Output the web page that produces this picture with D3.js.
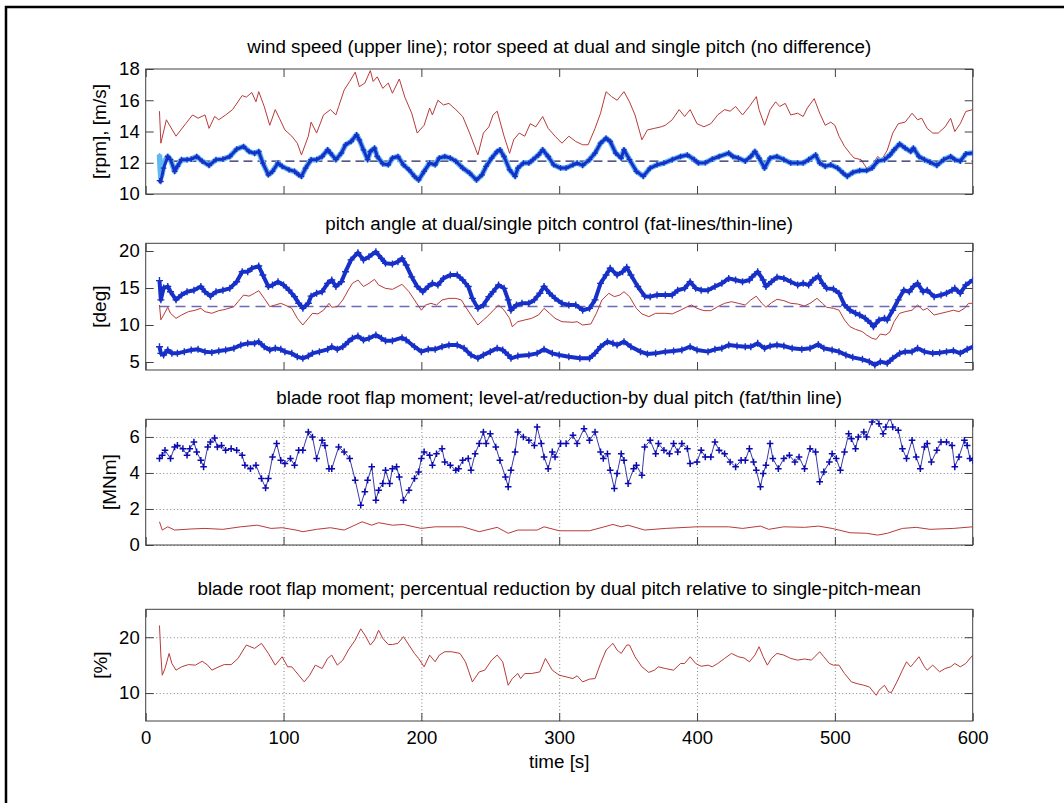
<!DOCTYPE html>
<html>
<head>
<meta charset="utf-8">
<script src="https://cdn.jsdelivr.net/npm/d3@7"></script>
<style>
  body { margin: 0; background: #fff; }
  svg { display: block; font-family: "Liberation Sans", Arial, sans-serif; }
</style>
</head>
<body>
<div id="chart"></div>
<script>
// time axis ticks (s)
const timeTicks = [0, 100, 200, 300, 400, 500, 600];

// panel 1: wind speed [m/s] and rotor speed [rpm], pairs of [time, value]
const windSpeed = [[10,15.3],[11,13.25],[15,14.75],[22,13.7],[29,14.5],[34,15.06],[38,14.85],[43,15.06],[46,14.2],[50,14.96],[53,14.75],[58,15.06],[63,15.4],[70,16.3],[73,16.2],[77,16.5],[80,15.9],[82,16.55],[86,15.6],[90,14.4],[94,15.4],[97,14.85],[101,14.1],[106,13.7],[110,13.25],[113,12.5],[118,13.7],[120,14.6],[124,13.9],[129,15.06],[134,15.4],[138,15.06],[140,15.6],[144,16.66],[148,17.2],[152,17.8],[155,16.87],[159,17.1],[163,17.9],[165,17.2],[168,17.5],[172,16.76],[176,17.1],[179,16.45],[184,17.36],[188,16.2],[193,15.17],[197,13.9],[202,14.4],[206,15.5],[208,15.06],[212,16.0],[216,15.7],[220,15.8],[225,15.4],[230,14.96],[235,13.9],[241,12.5],[245,13.9],[249,14.3],[252,15.06],[255,15.3],[260,13.7],[264,12.6],[267,13.47],[271,13.9],[275,13.7],[279,14.5],[283,14.3],[288,14.96],[292,14.2],[297,13.7],[302,13.25],[307,13.7],[312,13.36],[317,13.15],[321,13.15],[326,14.2],[330,15.17],[334,16.55],[338,16.23],[342,16.0],[347,16.55],[351,15.9],[355,15.06],[360,13.47],[364,14.1],[369,14.2],[374,14.3],[377,14.4],[382,14.75],[387,15.4],[391,14.96],[395,15.4],[400,14.5],[405,14.3],[410,14.5],[415,15.06],[420,15.4],[424,15.3],[428,15.6],[433,15.06],[438,15.6],[443,16.23],[445,15.4],[449,14.4],[453,15.4],[457,15.9],[460,15.6],[464,15.8],[468,15.06],[473,15.17],[477,14.96],[480,15.5],[485,16.1],[489,15.17],[493,14.4],[497,14.6],[500,14.4],[503,13.7],[507,13.05],[511,12.6],[514,12.3],[519,12.2],[523,11.66],[527,11.87],[531,12.4],[534,12.2],[538,12.8],[542,13.9],[546,14.5],[551,14.6],[556,15.17],[560,14.75],[563,14.85],[567,14.2],[571,13.9],[575,13.9],[580,14.3],[584,14.85],[587,14.0],[591,14.5],[595,15.28],[600,15.4]];
const rotorDual = [[10,10.85],[11,10.8],[13,11.66],[16,12.4],[18,12.2],[21,11.45],[23,11.77],[26,12.2],[30,12.2],[33,12.23],[37,12.4],[41,12.1],[46,11.83],[51,12.2],[56,12.23],[61,12.4],[66,12.87],[71,13.04],[75,12.72],[79,12.6],[82,12.72],[85,11.98],[89,11.23],[92,11.45],[96,11.98],[99,11.77],[104,11.55],[108,11.45],[111,11.23],[113,11.13],[116,11.66],[120,12.2],[124,12.2],[128,12.4],[132,12.83],[134,12.62],[138,12.2],[142,12.62],[145,13.15],[149,13.36],[153,13.79],[155,13.47],[158,12.83],[161,12.2],[163,12.72],[166,12.94],[168,12.4],[172,11.94],[176,11.87],[179,12.3],[183,12.4],[187,11.87],[191,11.55],[195,11.13],[198,10.9],[202,11.45],[206,11.98],[210,11.87],[213,12.3],[217,12.4],[221,12.3],[225,12.1],[230,11.66],[235,11.34],[240,10.9],[244,11.23],[247,11.77],[251,12.3],[255,12.72],[257,12.83],[260,12.4],[264,11.55],[268,11.13],[270,11.66],[274,11.98],[278,11.98],[281,12.2],[285,12.5],[288,12.83],[292,12.4],[296,11.87],[301,11.66],[305,11.66],[310,11.87],[313,11.98],[317,11.83],[322,12.2],[326,12.62],[330,13.25],[334,13.57],[337,13.36],[341,12.62],[345,12.3],[347,12.83],[351,12.2],[356,11.45],[361,11.13],[366,11.66],[371,11.87],[376,11.98],[382,12.2],[388,12.4],[393,12.5],[398,12.2],[401,11.98],[406,12.0],[411,12.23],[416,12.4],[423,12.62],[426,12.4],[430,12.3],[435,12.1],[439,12.4],[442,12.72],[445,12.3],[449,11.66],[453,12.3],[458,12.4],[463,12.2],[468,11.98],[473,11.98],[477,11.98],[481,12.2],[486,12.5],[489,11.98],[493,11.77],[497,11.87],[502,11.66],[506,11.34],[509,11.13],[513,11.38],[518,11.5],[523,11.5],[527,11.66],[531,12.1],[536,12.2],[540,12.5],[543,12.83],[547,13.2],[551,12.94],[555,12.72],[557,12.94],[561,12.4],[565,12.2],[569,12.04],[574,11.83],[579,12.2],[584,12.4],[587,12.2],[591,12.1],[595,12.57],[600,12.62]];
// single pitch rotor speed: only its first seconds differ from the dual pitch run
const rotorSingleStart = [[10,12.5],[10.5,11.6],[11,11.05],[12,11.3],[13,11.9],[15,12.3]];
const rotorRef = 12.1;

// panel 2: pitch angle [deg]
const pitchDualHigh = [[10,16.0],[11,13.4],[13,15.0],[16,15.2],[18,14.5],[22,13.4],[26,14.05],[30,14.5],[35,14.7],[40,15.2],[43,14.5],[47,13.9],[51,14.5],[56,14.7],[61,14.95],[66,15.85],[70,17.2],[74,17.2],[77,17.65],[82,17.97],[85,16.75],[89,15.2],[92,15.4],[96,15.85],[100,15.4],[104,14.7],[108,13.83],[111,12.93],[114,12.25],[118,12.93],[120,13.9],[124,14.3],[128,14.5],[132,15.63],[135,16.08],[138,15.2],[142,15.85],[145,17.2],[149,18.8],[154,19.77],[158,18.8],[162,19.23],[167,19.9],[171,19.0],[174,18.33],[179,18.24],[183,18.56],[186,19.0],[189,18.1],[193,16.5],[197,15.2],[201,14.5],[205,15.2],[208,15.63],[212,15.4],[216,16.3],[221,16.76],[226,16.76],[230,16.08],[234,15.2],[237,13.6],[241,12.25],[245,12.7],[249,13.83],[252,14.5],[256,15.4],[260,14.95],[263,13.4],[265,12.0],[269,12.7],[273,12.93],[278,12.93],[282,13.4],[286,14.3],[289,15.2],[293,14.3],[297,13.6],[302,12.93],[307,12.7],[312,12.7],[317,12.0],[322,12.25],[326,13.4],[330,15.63],[334,16.76],[337,17.66],[342,16.76],[346,17.2],[349,17.8],[352,16.76],[357,15.2],[362,13.9],[366,13.83],[371,14.05],[377,14.05],[382,14.05],[386,14.7],[391,14.95],[395,15.85],[399,14.95],[403,14.7],[408,14.7],[413,15.2],[418,15.63],[423,16.3],[428,16.08],[433,15.85],[438,16.08],[440,16.5],[444,17.2],[448,16.08],[450,15.2],[454,15.85],[458,16.44],[463,16.3],[468,15.85],[473,15.4],[477,15.63],[481,15.4],[484,16.08],[488,16.62],[491,15.63],[494,14.95],[499,14.86],[503,14.3],[507,12.7],[511,12.0],[515,11.58],[518,11.35],[522,10.9],[526,10.23],[528,9.78],[532,10.68],[536,10.9],[538,10.68],[542,12.0],[546,13.4],[550,14.7],[554,14.5],[557,15.2],[560,15.63],[564,14.5],[567,14.7],[572,13.83],[577,14.05],[581,14.3],[585,14.7],[587,14.95],[591,14.3],[595,15.4],[600,16.08]];
const pitchDualLow = [[10,7.07],[11,6.17],[13,5.95],[16,6.62],[19,6.17],[23,6.17],[28,6.4],[33,6.62],[38,6.71],[43,6.4],[48,6.3],[53,6.5],[58,6.62],[64,6.85],[69,7.3],[74,7.52],[79,7.52],[82,7.75],[86,7.07],[90,6.62],[94,6.85],[98,6.71],[101,6.4],[106,6.17],[110,5.72],[114,5.5],[118,5.8],[121,6.17],[126,6.4],[132,6.71],[135,7.07],[139,6.71],[143,7.07],[147,7.75],[150,8.2],[154,8.5],[158,7.97],[162,8.2],[167,8.65],[171,8.2],[174,7.88],[179,7.88],[186,8.29],[189,7.97],[195,7.07],[200,6.4],[205,6.71],[210,6.71],[215,7.07],[220,7.3],[226,7.3],[231,6.85],[236,5.95],[241,5.5],[245,5.95],[250,6.4],[255,6.85],[259,6.62],[263,5.95],[265,5.5],[270,5.8],[278,5.95],[284,6.17],[289,6.71],[295,6.17],[300,5.95],[307,5.72],[315,5.5],[322,5.5],[326,6.17],[330,7.07],[335,7.75],[339,7.52],[342,7.3],[347,7.75],[352,7.07],[359,6.4],[364,6.08],[370,6.17],[377,6.4],[383,6.5],[389,6.62],[395,7.07],[400,6.62],[408,6.4],[413,6.71],[418,6.85],[423,7.3],[429,7.16],[435,7.07],[439,7.07],[444,7.52],[449,6.85],[453,7.16],[458,7.3],[463,7.16],[469,6.85],[476,6.71],[482,6.85],[488,7.38],[492,6.85],[498,6.62],[503,6.4],[508,5.95],[513,5.63],[520,5.36],[525,5.05],[529,4.6],[533,5.05],[538,4.83],[542,5.5],[547,6.17],[551,6.4],[556,6.4],[560,6.85],[565,6.4],[571,6.17],[576,6.26],[581,6.4],[586,6.53],[591,6.17],[596,6.71],[600,7.07]];
const pitchSingle = [[10,12.7],[11,10.7],[13,11.35],[16,12.4],[18,11.58],[22,10.9],[26,11.35],[31,11.8],[36,12.0],[40,12.25],[43,11.8],[48,11.58],[53,11.94],[58,12.12],[64,12.48],[67,13.15],[71,14.05],[75,13.9],[79,14.3],[82,14.64],[86,13.6],[90,12.48],[94,12.7],[98,12.93],[101,12.7],[106,12.25],[110,10.9],[114,10.0],[118,10.9],[121,11.58],[125,11.5],[129,12.0],[133,12.93],[135,12.4],[139,12.48],[143,13.38],[147,14.73],[150,15.63],[154,16.08],[158,15.2],[162,15.63],[166,16.17],[169,15.4],[174,14.95],[179,14.82],[183,15.2],[186,15.5],[191,14.5],[195,13.38],[200,12.0],[203,12.7],[207,12.93],[211,12.7],[215,13.38],[220,13.6],[225,13.6],[229,13.38],[232,12.48],[236,11.35],[241,10.0],[245,10.68],[249,11.35],[252,11.94],[256,12.7],[260,12.0],[264,10.9],[266,9.77],[270,10.45],[275,10.68],[280,10.9],[285,11.35],[289,12.25],[293,11.58],[297,10.9],[302,10.45],[310,10.36],[313,10.45],[317,10.0],[323,10.14],[327,11.58],[331,13.38],[336,14.28],[340,13.83],[344,14.05],[347,14.5],[351,13.83],[356,12.25],[360,11.5],[365,11.13],[370,11.58],[377,11.58],[382,11.5],[388,12.0],[393,12.48],[396,12.7],[400,12.25],[405,11.94],[410,11.94],[415,12.48],[420,12.93],[425,13.15],[430,12.93],[435,12.7],[439,13.38],[443,13.9],[447,12.93],[450,12.4],[454,13.0],[458,13.47],[463,13.29],[468,12.93],[473,12.84],[478,12.57],[482,12.93],[487,13.6],[491,12.93],[494,12.4],[499,12.25],[503,12.0],[507,10.68],[511,9.77],[515,9.41],[520,9.1],[523,8.65],[527,8.2],[530,8.06],[533,8.78],[537,8.65],[540,9.1],[543,10.45],[547,11.58],[551,11.8],[556,12.0],[560,12.7],[564,12.0],[567,12.25],[572,11.35],[577,11.58],[582,11.8],[586,12.0],[590,11.8],[594,12.25],[597,12.93],[600,12.93]];
const pitchRef = 12.5;

// panel 3: blade root flap moment [MNm]
const flapDual = [[10,4.8],[12,4.98],[14,5.26],[18,4.8],[21,5.44],[23,5.53],[27,5.35],[30,4.98],[32,5.35],[35,5.72],[37,5.17],[40,4.7],[42,4.34],[45,5.44],[47,5.72],[50,5.94],[52,5.44],[55,5.53],[58,5.26],[62,5.35],[66,5.26],[70,4.98],[72,4.43],[76,4.24],[80,4.43],[84,3.69],[87,3.17],[89,3.69],[92,4.89],[95,5.63],[98,4.7],[101,4.52],[105,4.8],[108,4.43],[111,5.26],[114,5.26],[118,6.27],[121,6.0],[124,4.8],[128,5.81],[130,5.53],[133,4.24],[135,4.24],[140,5.44],[144,5.17],[148,4.8],[152,3.6],[156,2.21],[159,2.95],[161,3.6],[164,4.34],[167,2.49],[169,3.04],[172,3.41],[174,4.15],[177,3.41],[179,4.24],[182,4.34],[184,3.78],[187,2.49],[191,3.04],[195,3.69],[198,4.06],[200,4.8],[202,5.17],[206,4.98],[208,4.43],[211,5.07],[215,5.35],[217,4.61],[221,4.43],[225,4.15],[227,4.24],[230,4.7],[234,4.8],[236,4.15],[239,5.07],[242,5.63],[245,6.27],[247,5.63],[250,6.18],[254,5.44],[257,4.7],[261,3.78],[263,3.23],[265,4.15],[268,5.17],[270,6.27],[274,6.0],[278,5.81],[282,5.53],[284,6.55],[287,5.63],[289,4.89],[292,4.24],[295,5.17],[297,4.89],[301,5.63],[305,5.63],[310,6.09],[313,5.63],[318,6.46],[322,5.81],[326,6.27],[330,5.17],[332,4.8],[335,5.07],[337,4.15],[340,3.14],[342,3.97],[345,5.07],[347,4.7],[350,3.41],[354,4.24],[356,4.43],[360,3.87],[362,5.44],[366,5.81],[370,5.07],[372,5.63],[376,5.26],[380,5.07],[383,5.63],[386,5.17],[389,5.63],[393,5.35],[395,4.52],[400,4.61],[403,5.26],[406,4.89],[410,4.89],[413,5.72],[416,5.26],[420,5.07],[424,4.61],[428,4.34],[432,4.7],[435,4.7],[438,5.35],[441,4.61],[443,4.15],[446,3.23],[448,3.97],[450,4.43],[453,5.63],[455,4.8],[459,4.24],[463,4.8],[467,4.98],[471,4.61],[474,4.89],[478,4.24],[482,5.35],[486,5.17],[489,3.51],[492,4.06],[496,4.61],[498,5.07],[501,4.8],[504,4.15],[507,5.17],[510,6.18],[512,5.9],[515,5.35],[517,6.0],[521,6.27],[523,6.0],[527,6.83],[530,7.1],[532,6.73],[535,6.18],[537,6.55],[540,7.1],[542,6.55],[546,6.37],[549,5.35],[552,4.8],[556,5.81],[559,4.89],[562,4.24],[565,5.44],[567,5.63],[570,4.61],[574,5.26],[577,5.72],[581,5.72],[585,5.53],[587,4.34],[590,4.89],[594,5.81],[596,5.53],[598,4.8],[600,4.7]];
const flapReduction = [[10,1.29],[12,0.83],[16,1.01],[21,0.83],[33,0.89],[43,0.92],[56,0.87],[69,1.01],[81,1.1],[91,0.92],[99,0.96],[109,0.83],[114,0.74],[124,0.87],[134,0.96],[144,0.83],[157,1.29],[164,1.1],[169,1.24],[179,1.1],[187,1.14],[200,0.92],[210,1.01],[220,1.01],[230,1.01],[242,0.74],[255,0.98],[263,0.65],[270,0.83],[284,0.83],[289,1.01],[300,0.79],[322,0.79],[339,1.14],[345,1.01],[350,1.1],[362,0.83],[377,0.92],[400,1.01],[423,1.01],[433,0.92],[446,1.05],[452,0.87],[463,1.01],[478,0.98],[488,1.05],[498,0.92],[511,0.68],[523,0.65],[531,0.55],[538,0.65],[549,0.92],[559,0.98],[569,0.87],[586,0.92],[600,1.01]];

// panel 4: percentual reduction [%]
const flapPercent = [[10,22.1],[11,16.8],[12,13.2],[14,14.4],[17,17.1],[19,15.3],[22,14.1],[26,14.7],[31,15.1],[36,15.0],[41,15.7],[45,15.0],[48,14.1],[53,14.7],[57,15.1],[62,15.1],[67,16.2],[73,18.6],[79,18.0],[84,18.9],[89,17.1],[94,15.0],[99,16.5],[103,14.7],[106,14.7],[111,13.2],[115,12.0],[119,13.2],[123,15.0],[128,14.4],[132,16.2],[135,16.8],[139,15.0],[143,15.9],[147,17.7],[152,19.5],[156,21.5],[159,20.4],[163,18.6],[166,19.5],[169,21.25],[172,19.8],[176,18.7],[179,18.7],[183,18.9],[187,20.1],[191,18.6],[195,17.1],[198,16.2],[202,14.7],[206,16.8],[210,15.6],[213,16.8],[217,17.4],[222,17.4],[228,17.1],[232,15.6],[237,12.0],[242,13.8],[246,14.1],[251,15.9],[255,16.8],[259,15.6],[263,11.4],[266,12.6],[270,13.5],[272,12.6],[275,13.5],[280,13.5],[286,13.8],[290,16.2],[295,14.1],[300,13.2],[305,12.9],[310,12.6],[313,13.1],[317,12.0],[322,12.5],[326,12.6],[330,15.3],[334,17.7],[339,18.9],[342,17.7],[345,17.1],[349,18.6],[351,18.6],[355,16.5],[360,14.7],[365,13.7],[369,14.1],[372,14.7],[377,14.4],[383,14.1],[388,15.3],[391,15.3],[395,16.5],[399,15.3],[403,14.8],[408,15.0],[411,14.7],[415,15.3],[420,16.2],[425,17.1],[430,16.5],[434,16.3],[438,15.6],[442,16.8],[445,18.3],[448,16.5],[451,15.0],[454,16.2],[458,17.1],[463,16.8],[468,16.2],[473,15.9],[478,16.1],[483,15.9],[489,17.4],[492,16.5],[496,15.3],[499,15.0],[503,15.0],[507,13.5],[512,12.0],[516,11.7],[521,11.4],[525,11.1],[530,9.6],[532,10.5],[536,11.4],[539,10.2],[541,10.1],[545,12.0],[549,14.1],[552,15.6],[555,14.7],[557,15.3],[561,16.5],[565,14.7],[567,14.1],[571,15.0],[576,13.8],[580,14.4],[584,14.7],[587,15.3],[591,14.7],[595,15.3],[599,16.5],[600,16.8]];

// Set up the figure
const W = 1064, H = 803;
const left = 145.7, right = 972.7;
const red = "#b83a3a", blue = "#1630c8";
const tickFont = 18.5, titleFont = 18.8, labelFont = 19;

const svg = d3.select("#chart")
    .append("svg")
    .attr("width", W)
    .attr("height", H);

// black frame (only top and left edges are inside the picture)
svg.append("path")
    .attr("d", "M6,803V7H1064")
    .attr("fill", "none")
    .attr("stroke", "#000")
    .attr("stroke-width", 2.5);

const x = d3.scaleLinear().domain([0, 600]).range([left, right]);

function addText(px, py, str, size, rotate) {
    return svg.append("text")
        .attr("transform", `translate(${px},${py})` + (rotate ? " rotate(-90)" : ""))
        .attr("text-anchor", "middle")
        .style("font-size", size + "px")
        .text(str);
}

function drawPanel(p) {
    const y = d3.scaleLinear().domain(p.yDomain).range([p.bottom, p.top]);
    const h = p.bottom - p.top, w = right - left;

    svg.append("clipPath").attr("id", "clip" + p.id)
        .append("rect")
        .attr("x", left).attr("y", p.top).attr("width", w).attr("height", h);

    if (p.grid) {
        const gx = svg.append("g")
            .attr("transform", `translate(0,${p.bottom})`)
            .call(d3.axisBottom(x).tickValues(timeTicks.slice(1, -1)).tickSize(-h).tickFormat(""));
        const gy = svg.append("g")
            .attr("transform", `translate(${left},0)`)
            .call(d3.axisLeft(y).tickValues(p.yTicks).tickSize(-w).tickFormat(""));
        [gx, gy].forEach(g => {
            g.select(".domain").remove();
            g.selectAll("line").attr("stroke", "#808080").attr("stroke-dasharray", "1,2.5");
        });
    }

    const axes = [
        { a: d3.axisLeft(y).tickValues(p.yTicks), t: `translate(${left},0)`, labels: true, pad: 6 },
        { a: d3.axisRight(y).tickValues(p.yTicks), t: `translate(${right},0)`, labels: false, pad: 6 },
        { a: d3.axisTop(x).tickValues(timeTicks), t: `translate(0,${p.top})`, labels: false, pad: 6 },
        { a: d3.axisBottom(x).tickValues(timeTicks), t: `translate(0,${p.bottom})`, labels: p.xLabels, pad: 9.9 }
    ];
    axes.forEach(ax => {
        const g = svg.append("g")
            .attr("transform", ax.t)
            .call(ax.a.tickSize(-8).tickSizeOuter(0).tickPadding(ax.pad).tickFormat(d3.format("d")));
        g.select(".domain").remove();
        g.selectAll("line").attr("stroke", "#404040");
        if (!ax.labels) g.selectAll("text").remove();
        g.selectAll("text")
            .attr("fill", "#000")
            .style("font-size", tickFont + "px")
            .style("font-family", "'Liberation Sans', Arial, sans-serif");
    });

    svg.append("rect")
        .attr("x", left).attr("y", p.top).attr("width", w).attr("height", h)
        .attr("fill", "none").attr("stroke", "#404040").attr("stroke-width", 1);

    addText((left + right) / 2, p.titleY, p.title, titleFont, false);
    addText(p.ylabelX, (p.top + p.bottom) / 2, p.ylabel, labelFont, true);

    const plot = svg.append("g").attr("clip-path", `url(#clip${p.id})`);
    const line = d3.line().x(d => x(d[0])).y(d => y(d[1]));
    return { y, plot, line };
}

function drawLine(panel, data, color, width, dash) {
    panel.plot.append("path")
        .datum(data)
        .attr("d", panel.line)
        .attr("fill", "none")
        .attr("stroke", color)
        .attr("stroke-width", width)
        .attr("stroke-linejoin", "round")
        .attr("stroke-dasharray", dash || null);
}

function drawPlus(panel, data, color, size, width) {
    panel.plot.append("g")
        .selectAll("path")
        .data(data)
        .enter()
        .append("path")
        .attr("d", `M${-size},0H${size}M0,${-size}V${size}`)
        .attr("transform", d => `translate(${x(d[0])},${panel.y(d[1])})`)
        .attr("stroke", color)
        .attr("stroke-width", width);
}

// Panel 1: wind speed and rotor speed
const p1 = drawPanel({
    id: 1, top: 69, bottom: 194, yDomain: [10, 18], yTicks: [10, 12, 14, 16, 18],
    title: "wind speed (upper line); rotor speed at dual and single pitch (no difference)",
    titleY: 52.7, ylabel: "[rpm], [m/s]", ylabelX: 106, grid: false, xLabels: false
});
drawLine(p1, windSpeed, red, 1);
drawLine(p1, [[10, rotorRef], [600, rotorRef]], "#22225e", 1.2, "9,5");
const rotorSingle = rotorSingleStart.concat(rotorDual.filter(d => d[0] > 15));
drawLine(p1, rotorSingle, "#5fb8ee", 5.5);
drawPlus(p1, rotorSingleStart, "#5fb8ee", 2, 1.5);
drawLine(p1, rotorDual, blue, 3);
drawPlus(p1, rotorDual, blue, 2.8, 1.3);

// Panel 2: pitch angle
const p2 = drawPanel({
    id: 2, top: 243.3, bottom: 370, yDomain: [3.92, 21.04], yTicks: [5, 10, 15, 20],
    title: "pitch angle at dual/single pitch control (fat-lines/thin-line)",
    titleY: 230, ylabel: "[deg]", ylabelX: 106, grid: false, xLabels: false
});
drawLine(p2, [[10, pitchRef], [600, pitchRef]], "#6a6ab8", 1.5, "10,6");
drawLine(p2, pitchSingle, red, 1);
drawLine(p2, pitchDualHigh, blue, 4);
drawPlus(p2, pitchDualHigh, blue, 3.5, 1.4);
drawLine(p2, pitchDualLow, blue, 4);
drawPlus(p2, pitchDualLow, blue, 3.5, 1.4);

// Panel 3: blade root flap moment
const p3 = drawPanel({
    id: 3, top: 419.3, bottom: 545, yDomain: [0, 6.98], yTicks: [0, 2, 4, 6],
    title: "blade root flap moment; level-at/reduction-by dual pitch (fat/thin line)",
    titleY: 404, ylabel: "[MNm]", ylabelX: 116, grid: true, xLabels: false
});
drawLine(p3, flapReduction, red, 1);
drawLine(p3, flapDual, "#3a3aa8", 1);
drawPlus(p3, flapDual, "#0a0ab0", 3.3, 1.5);

// Panel 4: percentual reduction
const p4 = drawPanel({
    id: 4, top: 609.3, bottom: 721, yDomain: [5, 25], yTicks: [10, 20],
    title: "blade root flap moment; percentual reduction by dual pitch relative to single-pitch-mean",
    titleY: 594.5, ylabel: "[%]", ylabelX: 107, grid: true, xLabels: true
});
drawLine(p4, flapPercent, red, 1);

addText((left + right) / 2, 768, "time [s]", titleFont, false);
</script>
</body>
</html>
